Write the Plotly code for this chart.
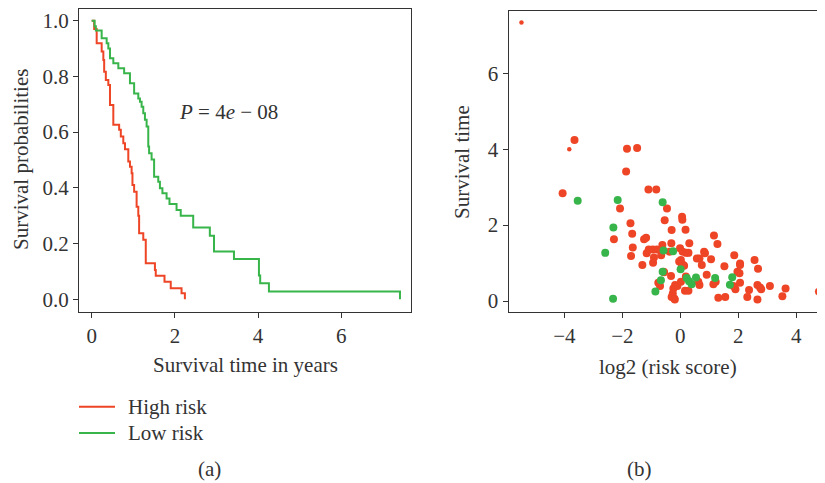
import plotly.graph_objects as go

# The page body adds an 8px margin, so the figure itself is 8px smaller in
# both directions and every pixel position is measured from that offset.
OFF = 8
W, H = 825 - OFF, 483 - OFF

# ---------------- data ----------------
high_t = [0, 0.06, 0.12, 0.24, 0.28, 0.30, 0.34, 0.40, 0.44, 0.52, 0.66, 0.70, 0.76, 0.80,
          0.88, 0.92, 0.96, 0.98, 1.02, 1.08, 1.12, 1.14, 1.24, 1.30, 1.52, 1.54, 1.75,
          1.90, 2.16, 2.24]
high_s = [1.0, 0.97, 0.919, 0.889, 0.859, 0.817, 0.787, 0.769, 0.697, 0.626, 0.608, 0.584,
          0.56, 0.538, 0.494, 0.476, 0.452, 0.41, 0.386, 0.332, 0.30, 0.237, 0.213, 0.129,
          0.105, 0.084, 0.063, 0.039, 0.021, 0.0]

low_t = [0, 0.07, 0.10, 0.24, 0.36, 0.40, 0.44, 0.52, 0.64, 0.78, 0.92, 1.02, 1.12, 1.16,
         1.20, 1.24, 1.28, 1.32, 1.36, 1.38, 1.44, 1.50, 1.60, 1.64, 1.70, 1.80, 1.87,
         2.04, 2.14, 2.44, 2.84, 2.94, 3.42, 4.02, 4.05, 4.26, 7.41]
low_s = [1.0, 0.98, 0.965, 0.937, 0.919, 0.90, 0.865, 0.847, 0.829, 0.811, 0.775, 0.739,
         0.721, 0.709, 0.691, 0.668, 0.644, 0.62, 0.548, 0.524, 0.502, 0.44, 0.422, 0.398,
         0.38, 0.362, 0.342, 0.32, 0.30, 0.257, 0.228, 0.171, 0.144, 0.085, 0.057, 0.028, 0.0]

red_x = [-4.06, -3.65, -1.84, -1.49, -1.87, -1.10, -0.83, -2.08, -0.46, -1.72, -0.54, 0.06,
         0.07, -1.66, -0.30, 0.18, -2.29, -1.64, -1.70, -1.25, -1.18, -0.31, 0.31, -1.09,
         -0.95, -0.81, -1.16, -0.91, -0.66, -0.62, -1.31, -0.94, -0.37, -0.01, 0.08, 0.20,
         0.28, 0.57, -0.04, 0.05, 0.13, -0.56, -0.32, -0.76, -0.70, -0.18, -0.24, -0.26,
         -0.21, 0.02, 0.16, 0.28, 0.66, 0.74, 0.82, 0.85, 0.91, 1.06, 0.62, 0.66, 0.19,
         1.14, 1.22, 1.31, 1.55, 1.52, 1.16, 1.28, 1.86, 2.06, 2.06, 1.97, 2.04, 1.90,
         2.06, 2.37, 2.31, 2.56, 2.68, 2.66, 2.75, 2.79, 2.66, 3.09, 3.63, 3.52, 4.78,
         -0.30, -0.19, -0.10, -0.58, 0.10, 0.02, 1.83]
red_y = [2.84, 4.24, 4.01, 4.03, 3.41, 2.94, 2.94, 2.44, 2.44, 2.05, 2.13, 2.22,
         2.14, 1.77, 1.87, 1.88, 1.63, 1.41, 1.19, 1.63, 1.67, 1.52, 1.52, 1.36,
         1.36, 1.36, 1.26, 1.15, 1.21, 1.48, 0.95, 1.01, 1.30, 1.39, 1.30, 1.27,
         1.27, 1.12, 1.04, 0.97, 0.93, 0.76, 0.66, 0.48, 0.40, 0.42, 0.33, 0.20,
         0.07, 0.51, 0.27, 0.27, 1.12, 0.95, 1.30, 1.26, 0.69, 1.10, 0.51, 0.42, 0.65,
         0.44, 0.51, 0.09, 0.11, 0.92, 1.73, 1.50, 1.21, 0.99, 0.95, 0.77, 0.73, 0.31,
         0.48, 0.29, 0.11, 1.08, 0.85, 0.42, 0.36, 0.31, 0.04, 0.40, 0.33, 0.13, 0.25,
         0.11, 0.04, 0.40, 0.77, 0.95, 1.08, 0.40]

red_small_x = [-5.48, -3.83]
red_small_y = [7.34, 4.00]

green_x = [-3.54, -2.16, -0.61, -2.31, -2.59, -2.32, -0.25, -0.58, -0.61, -0.67, -0.86,
           0.01, 0.22, 0.39, 0.30, 0.54, 1.20, 1.79, 1.71]
green_y = [2.64, 2.66, 2.60, 1.94, 1.27, 0.06, 1.31, 1.33, 0.77, 0.55, 0.25,
           0.84, 0.61, 0.44, 0.52, 0.62, 0.61, 0.63, 0.43]

km_xticks = [0, 2, 4, 6]
km_yticks = [0.0, 0.2, 0.4, 0.6, 0.8, 1.0]
sc_xticks = [-4, -2, 0, 2, 4]
sc_yticks = [0, 2, 4, 6]

# ---------------- style ----------------
RED = "#EE4526"
GREEN = "#38B54A"
AX = "#333333"
FONT = "Liberation Serif"
FS = 21


def px(x):
    return (x - OFF) / W


def py(y):
    return 1 - (y - OFF) / H


fig = go.Figure()

fig.add_trace(go.Scatter(x=high_t, y=high_s, mode="lines", line=dict(color=RED, width=2, shape="hv"),
                         name="High risk", xaxis="x", yaxis="y", showlegend=False))
fig.add_trace(go.Scatter(x=low_t, y=low_s, mode="lines", line=dict(color=GREEN, width=2, shape="hv"),
                         name="Low risk", xaxis="x", yaxis="y", showlegend=False))

fig.add_trace(go.Scatter(x=red_x, y=red_y, mode="markers", marker=dict(color=RED, size=8),
                         cliponaxis=False, xaxis="x2", yaxis="y2", showlegend=False))
fig.add_trace(go.Scatter(x=red_small_x, y=red_small_y, mode="markers", marker=dict(color=RED, size=4.5),
                         cliponaxis=False, xaxis="x2", yaxis="y2", showlegend=False))
fig.add_trace(go.Scatter(x=green_x, y=green_y, mode="markers", marker=dict(color=GREEN, size=8),
                         cliponaxis=False, xaxis="x2", yaxis="y2", showlegend=False))

axis_common = dict(showgrid=False, zeroline=False, showline=True, linecolor=AX, linewidth=1.3,
                   ticks="outside", ticklen=5, tickwidth=1.2, tickcolor=AX, automargin=False,
                   tickfont=dict(family=FONT, size=FS, color=AX))

fig.update_layout(
    width=W, height=H,
    margin=dict(l=0, r=0, t=0, b=0, autoexpand=False),
    paper_bgcolor="white", plot_bgcolor="white",
    xaxis=dict(domain=[px(79), px(411)], range=[-0.305, 7.675], tickvals=km_xticks,
               mirror=True, anchor="y", **axis_common),
    yaxis=dict(domain=[py(312), py(9)], range=[-0.046, 1.042], tickvals=km_yticks,
               tickformat=".1f", mirror=True, anchor="x", **axis_common),
    xaxis2=dict(domain=[px(508.7), 1.0], range=[-5.92, 4.99], tickvals=sc_xticks,
                mirror=True, anchor="y2", **axis_common),
    yaxis2=dict(domain=[py(311.7), py(11)], range=[-0.28, 7.64], tickvals=sc_yticks,
                mirror=False, anchor="x2", **axis_common),
)

def note(text, x, y, size=FS, angle=0, xanchor="center"):
    fig.add_annotation(text=text, x=px(x), y=py(y), xref="paper", yref="paper",
                       showarrow=False, textangle=angle, xanchor=xanchor, yanchor="middle",
                       borderpad=0, font=dict(family=FONT, size=size, color=AX))

note("Survival time in years", 245, 365)
note("log2 (risk score)", 668, 367)
note("Survival probabilities", 21, 160, angle=-90)
note("Survival time", 462, 162, angle=-90)
note("<i>P</i> = 4<i>e</i> − 08", 228, 112)
note("(a)", 209, 469)
note("(b)", 639.5, 469)

# legend
for yy, col, lab in [(406.7, RED, "High risk"), (433, GREEN, "Low risk")]:
    fig.add_shape(type="line", xref="paper", yref="paper", x0=px(79), x1=px(115), y0=py(yy), y1=py(yy),
                  line=dict(color=col, width=2))
    note(lab, 127, yy, xanchor="left")

fig.write_html("out.html", post_script="document.body.style.overflow='hidden';")
